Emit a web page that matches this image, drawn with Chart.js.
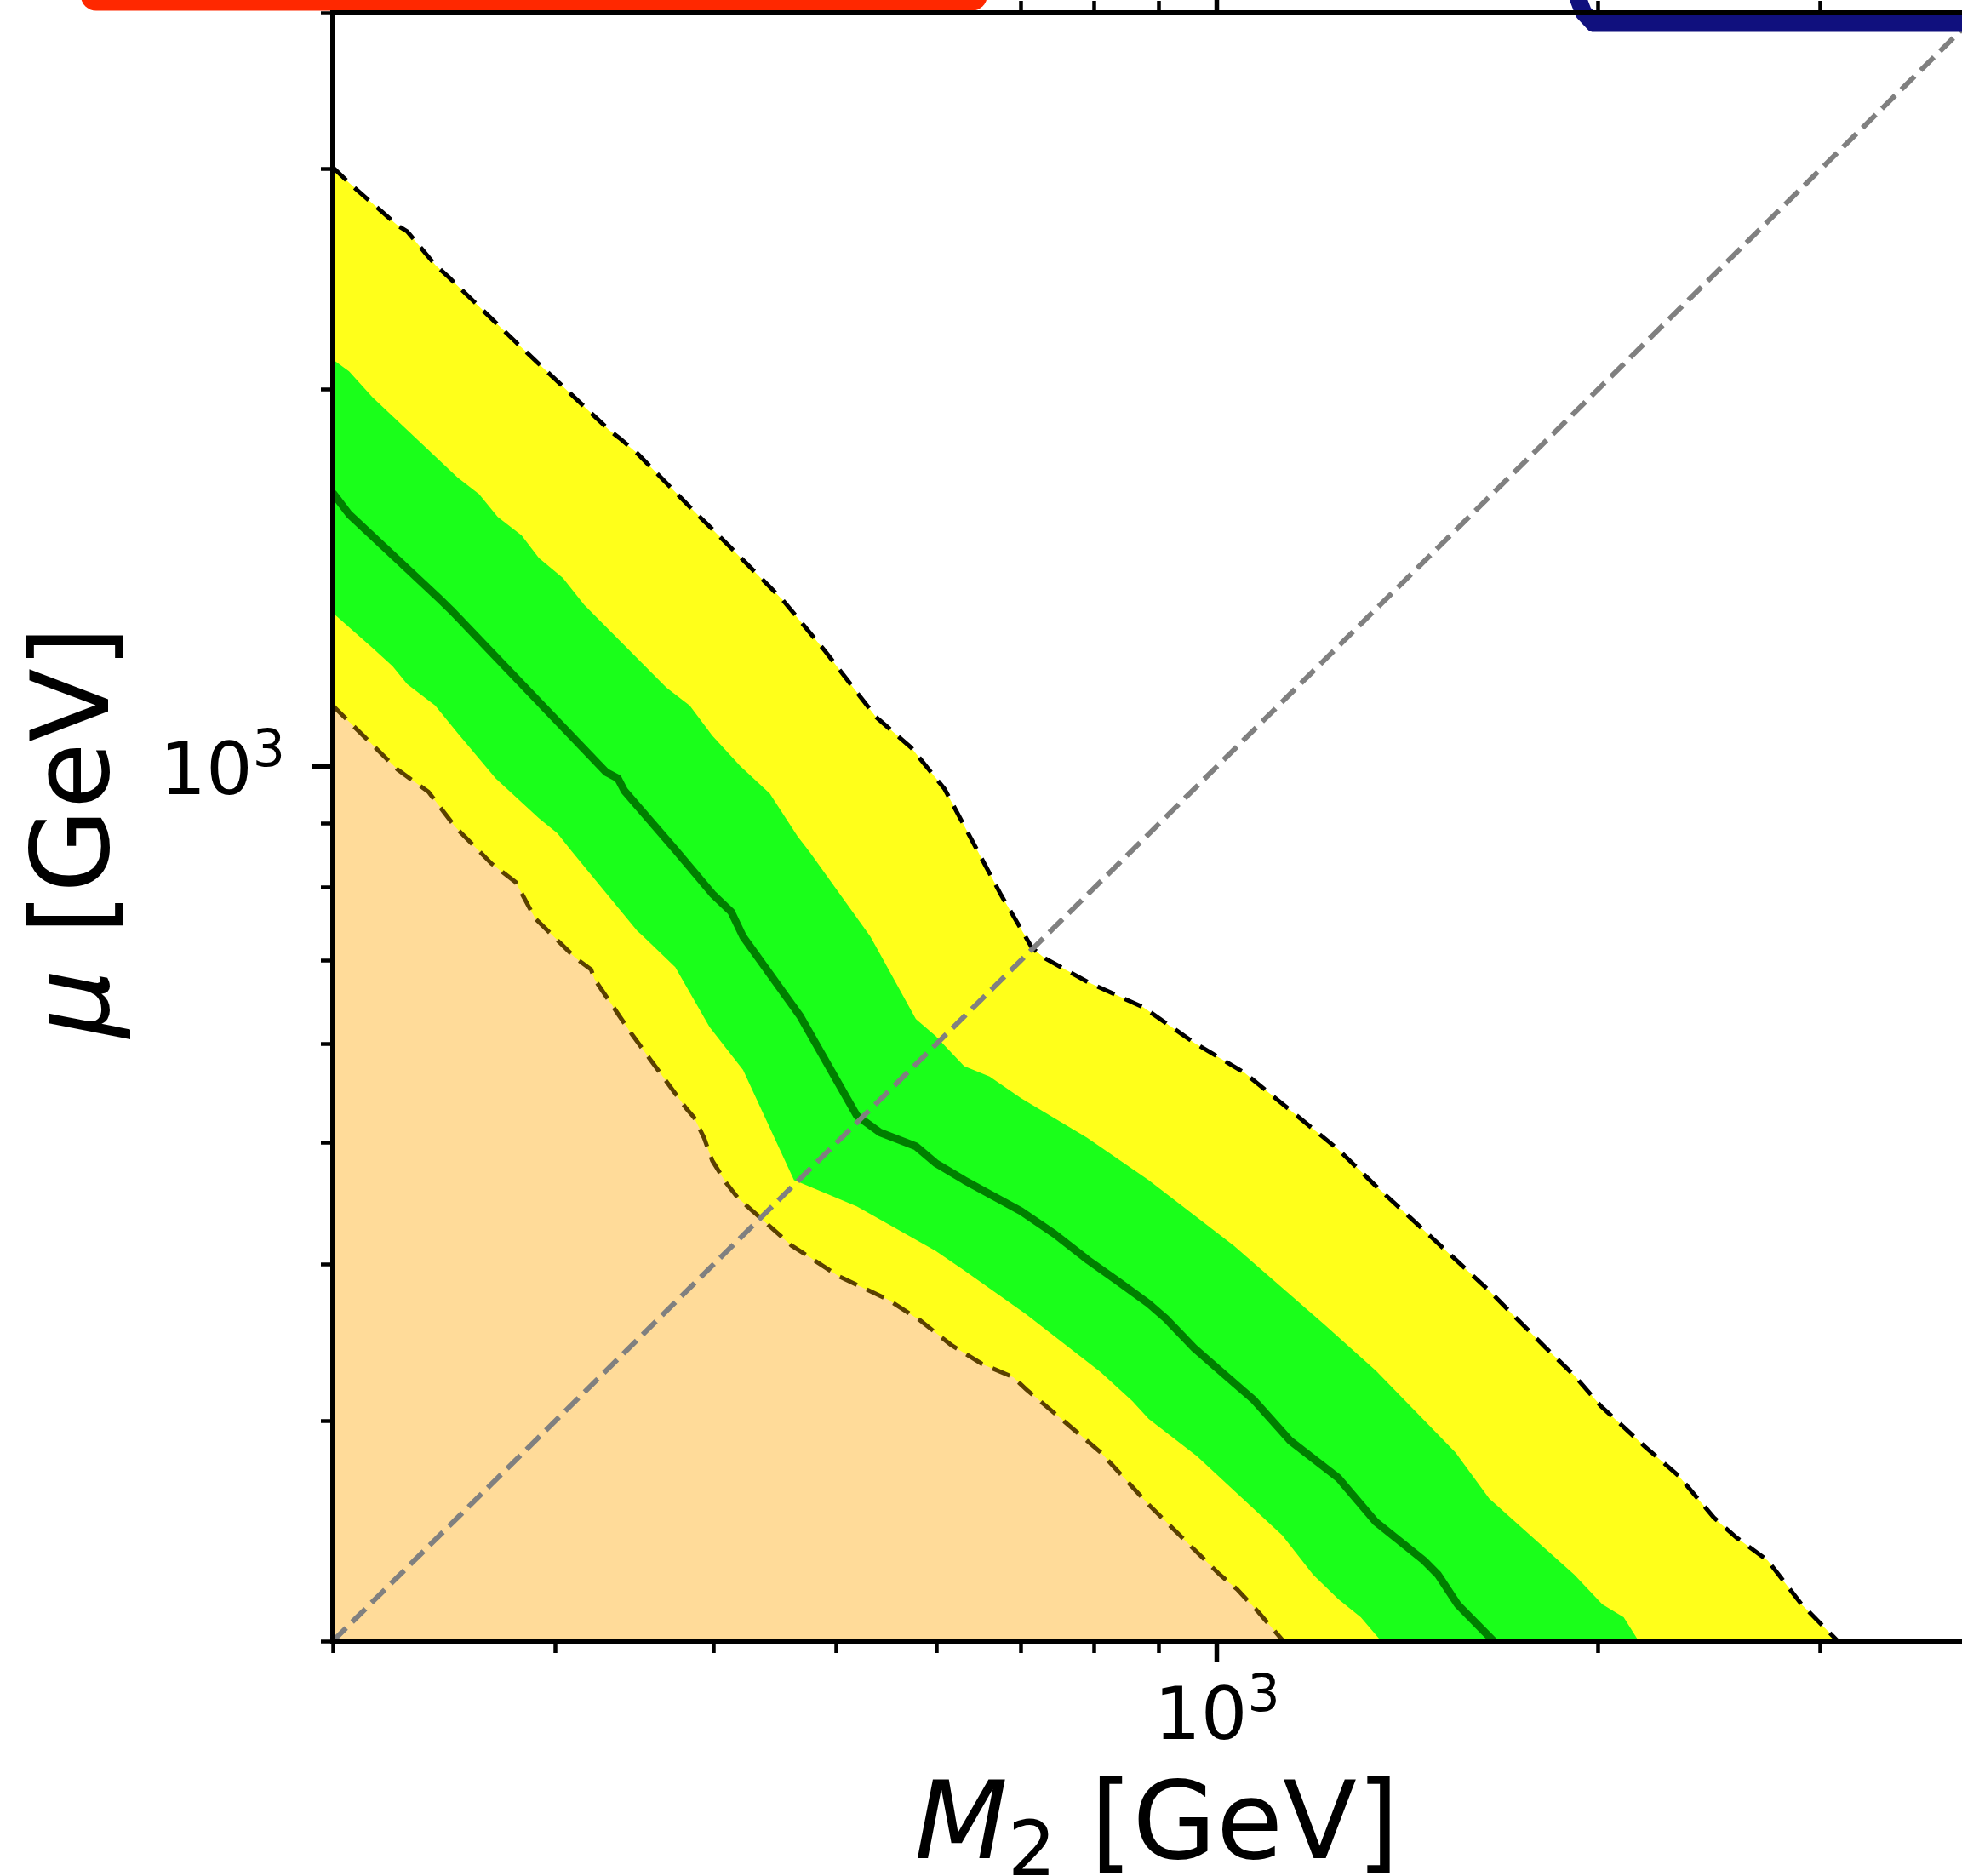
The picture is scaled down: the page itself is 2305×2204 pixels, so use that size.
<!DOCTYPE html>
<html>
<head>
<meta charset="utf-8">
<title>M2 - mu limit</title>
<script src="https://cdn.jsdelivr.net/npm/chart.js"></script>
<style>
  html, body { margin: 0; padding: 0; background: #fff; }
  #wrap { width: 2305px; height: 2204px; }
</style>
</head>
<body>
<div id="wrap"><canvas id="limitChart" width="2305" height="2204"></canvas></div>
<script>
// axis ranges and tick values (GeV)
const xRange = [200, 3880];
const yRange = [200, 4000];
const xTickValues = [200, 300, 400, 500, 600, 700, 800, 900, 1000, 2000, 3000];
const yTickValues = [200, 300, 400, 500, 600, 700, 800, 900, 1000, 2000, 3000, 4000];
const labelledTick = 1000;
const labelBase = '10';
const labelExp = '3';

// upper edge of the yellow band (dashed black)
const yellowTopM2 = [200, 206, 218, 225, 229, 241, 247, 280, 331, 337, 348, 390, 399, 453, 490, 537, 573, 609, 675, 714,
  730, 791, 874, 960, 1051, 1247, 1335, 1479, 1641, 1819, 1916, 2012, 2179, 2317, 2470, 2573, 2724, 2897, 3095];
const yellowTopMu = [3010, 2925, 2782, 2705, 2675, 2515, 2459, 2175, 1855, 1829, 1779, 1582, 1547, 1360, 1236, 1096, 1035, 959, 789, 716,
  703, 672, 642, 601, 569, 494, 462, 420, 381, 343, 326, 308, 286, 271, 251, 242, 232, 214, 200];

// upper edge of the green band
const greenTopM2 = [200, 206, 215, 251, 261, 270, 282, 291, 304, 316, 367, 383, 399, 420, 443, 466, 476, 532, 541, 578,
  599, 631, 661, 700, 789, 883, 1031, 1216, 1335, 1543, 1641, 1916, 2016, 2096, 2154];
const greenTopMu = [2114, 2068, 1972, 1701, 1650, 1582, 1529, 1467, 1414, 1346, 1156, 1118, 1058, 1000, 951, 879, 855, 731, 709, 628,
  609, 576, 565, 543, 505, 467, 414, 358, 329, 283, 260, 226, 214, 209, 200];

// central line (dark green)
const medianM2 = [200, 206, 243, 248, 329, 336, 340, 374, 399, 413, 422, 468, 519, 541, 578, 599, 631, 700, 744, 791,
  837, 883, 911, 959, 1005, 1068, 1143, 1247, 1335, 1457, 1495, 1549, 1654];
const medianMu = [1654, 1590, 1360, 1333, 989, 978, 956, 855, 791, 765, 731, 632, 526, 510, 497, 482, 467, 441, 423, 403,
  387, 372, 362, 343, 329, 312, 289, 270, 249, 232, 226, 214, 200];

// lower edge of the green band
const greenLowM2 = [200, 215, 223, 229, 241, 251, 269, 291, 301, 309, 348, 352, 373, 397, 422, 463, 468, 519, 599, 630,
  706, 756, 809, 857, 883, 964, 1126, 1191, 1247, 1299, 1348];
const greenLowMu = [1326, 1243, 1202, 1163, 1118, 1063, 978, 909, 884, 855, 739, 731, 691, 619, 572, 467, 465, 445, 410, 396,
  365, 346, 328, 311, 301, 281, 243, 226, 216, 209, 200];

// lower edge of the yellow band (dashed brown)
const yellowLowM2 = [200, 225, 238, 250, 267, 279, 289, 311, 320, 322, 343, 356, 381, 386, 393, 399, 409, 418, 461, 468,
  503, 549, 582, 616, 652, 690, 706, 756, 809, 883, 1005, 1037, 1078, 1128];
const yellowLowMu = [1118, 994, 954, 894, 836, 808, 756, 703, 688, 676, 615, 584, 532, 524, 505, 484, 465, 452, 414, 410,
  391, 375, 361, 345, 333, 325, 318, 300, 283, 257, 226, 220, 211, 200];

// M2 = mu line
const diagM2 = [200, 4000];
const diagMu = [200, 4000];

// cut-off curves from the neighbouring panels
const redM2 = [130, 640];
const redMu = [4130, 4130];
const blueM2 = [1927, 1948, 1985, 3990];
const blueMu = [4118, 4002, 3922, 3922];

const pts = (xs, ys) => xs.map((x, i) => ({ x: x, y: ys[i] }));

const isMajor = c => !!(c.tick && c.tick.major);

// short minor ticks: dash only the part next to the spine
const tickDash = side => c => {
  if (isMajor(c)) return [];
  return side === 'bottom' ? [11, 300] : [0, 10, 11, 300];
};

const zeroPad = s => { s.paddingLeft = 0; s.paddingRight = 0; s.paddingTop = 0; s.paddingBottom = 0; };

function logAxis(position, range, tickValues, size) {
  return {
    type: 'logarithmic',
    position: position,
    min: range[0],
    max: range[1],
    afterBuildTicks: s => { s.ticks = tickValues.map(v => ({ value: v, major: v === labelledTick })); },
    afterFit: s => {
      if (position === 'left') s.width = size; else s.height = size;
      zeroPad(s);
    },
    ticks: {
      autoSkip: false,
      maxRotation: 0,
      callback: () => ''   // the 10^3 labels are set in mathtext style below
    },
    grid: {
      drawOnChartArea: false,
      drawTicks: true,
      tickLength: 24,
      tickColor: '#000',
      tickWidth: c => isMajor(c) ? 5.5 : 4.5,
      tickBorderDash: tickDash(position)
    },
    border: { display: true, color: '#000', width: 6, z: 1 }
  };
}

function drawPower(ctx, x, y, align) {
  ctx.font = "86px 'DejaVu Sans'";
  const w1 = ctx.measureText(labelBase).width;
  ctx.font = "60px 'DejaVu Sans'";
  const w2 = ctx.measureText(labelExp).width;
  const x0 = align === 'center' ? x - (w1 + w2) / 2 : x - (w1 + w2);
  ctx.font = "86px 'DejaVu Sans'";
  ctx.fillText(labelBase, x0, y);
  ctx.font = "60px 'DejaVu Sans'";
  ctx.fillText(labelExp, x0 + w1, y - 33);
}

// tick labels and axis titles with italic symbols, like the mathtext original
const mathText = {
  id: 'mathText',
  afterDraw(chart) {
    const { ctx, chartArea, scales } = chart;
    ctx.save();
    ctx.fillStyle = '#000';
    ctx.textBaseline = 'alphabetic';
    ctx.textAlign = 'left';

    drawPower(ctx, scales.x.getPixelForValue(labelledTick), chartArea.bottom + 115, 'center');
    drawPower(ctx, chartArea.left - 56, scales.y.getPixelForValue(labelledTick) + 33, 'right');

    const reg = "127px 'DejaVu Sans'";
    const ital = "italic 127px 'DejaVu Sans'";
    const sub = "89px 'DejaVu Sans'";

    // M_2 [GeV]
    ctx.font = ital; const wM = ctx.measureText('M').width;
    ctx.font = sub; const w2 = ctx.measureText('2').width;
    ctx.font = reg; const wR = ctx.measureText(' [GeV]').width;
    let x = chartArea.left + 968 - (wM + w2 + wR) / 2;
    const base = chartArea.bottom + 255;
    ctx.font = ital; ctx.fillText('M', x, base); x += wM;
    ctx.font = sub; ctx.fillText('2', x, base + 20); x += w2;
    ctx.font = reg; ctx.fillText(' [GeV]', x, base);

    // mu [GeV]
    ctx.font = ital; const wMu = ctx.measureText('μ').width;
    ctx.font = reg; const wG = ctx.measureText(' [GeV]').width;
    ctx.translate(127, (chartArea.top + chartArea.bottom) / 2 + 6);
    ctx.rotate(-Math.PI / 2);
    let t = -(wMu + wG) / 2;
    ctx.font = ital; ctx.fillText('μ', t, 0); t += wMu;
    ctx.font = reg; ctx.fillText(' [GeV]', t, 0);
    ctx.restore();
  }
};

new Chart(document.getElementById('limitChart'), {
  type: 'line',
  data: {
    datasets: [
      { label: 'yellow band', data: pts(yellowTopM2, yellowTopMu), fill: 'start', backgroundColor: '#ffff1a', borderWidth: 0, order: 10 },
      { label: 'green band', data: pts(greenTopM2, greenTopMu), fill: 'start', backgroundColor: '#1aff1a', borderWidth: 0, order: 9 },
      { label: 'yellow lower', data: pts(greenLowM2, greenLowMu), fill: 'start', backgroundColor: '#ffff1a', borderWidth: 0, order: 8 },
      { label: 'allowed', data: pts(yellowLowM2, yellowLowMu), fill: 'start', backgroundColor: '#ffdb99', borderWidth: 0, order: 7 },
      { label: 'lower edge', data: pts(yellowLowM2, yellowLowMu), fill: false, borderColor: '#5a4000', borderWidth: 5, borderDash: [22, 13], order: 6 },
      { label: 'upper edge', data: pts(yellowTopM2, yellowTopMu), fill: false, borderColor: '#000', borderWidth: 5, borderDash: [22, 13], order: 5 },
      { label: 'central', data: pts(medianM2, medianMu), fill: false, borderColor: '#007f00', borderWidth: 9, borderJoinStyle: 'round', order: 4 },
      { label: 'M2 = mu', data: pts(diagM2, diagMu), fill: false, borderColor: '#808080', borderWidth: 6, borderDash: [22, 10], order: 3 },
      { label: 'red', data: pts(redM2, redMu), fill: false, borderColor: '#ff2800', borderWidth: 36, borderCapStyle: 'round', clip: false, order: 2 },
      { label: 'blue', data: pts(blueM2, blueMu), fill: false, borderColor: '#10107e', borderWidth: 20, borderCapStyle: 'round', borderJoinStyle: 'round', clip: false, order: 1 }
    ]
  },
  options: {
    responsive: false,
    animation: false,
    devicePixelRatio: 1,
    events: [],
    layout: { autoPadding: false, padding: 0 },
    elements: { point: { radius: 0 }, line: { tension: 0 } },
    plugins: { legend: { display: false }, tooltip: { enabled: false } },
    scales: {
      x: logAxis('bottom', xRange, xTickValues, 276),
      xTop: logAxis('top', xRange, xTickValues, 15),
      y: logAxis('left', yRange, yTickValues, 391)
    }
  },
  plugins: [mathText]
});
</script>
</body>
</html>
